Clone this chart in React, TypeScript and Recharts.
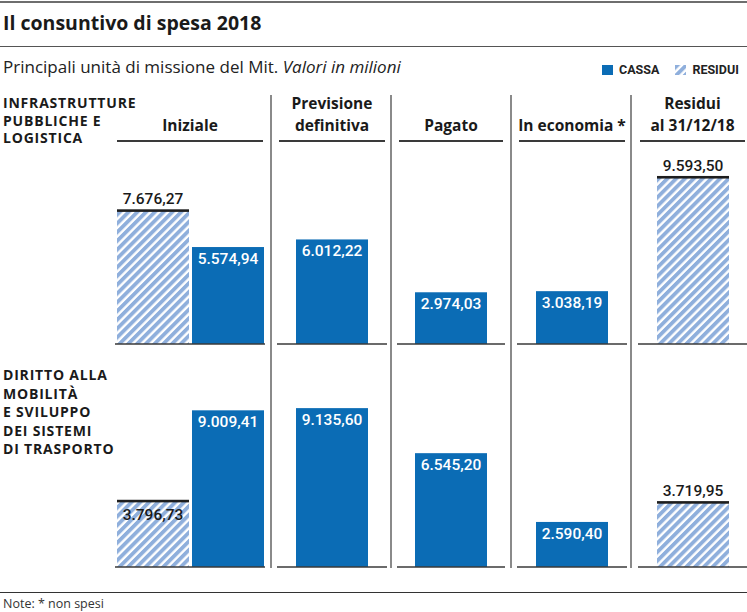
import React from 'react';
import { BarChart, Bar, XAxis, YAxis, LabelList } from 'recharts';

// ---- data ----
const rowLabels: string[][] = [
  ['INFRASTRUTTURE', 'PUBBLICHE E', 'LOGISTICA'],
  ['DIRITTO ALLA', 'MOBILITÀ', 'E SVILUPPO', 'DEI SISTEMI', 'DI TRASPORTO'],
];
const columnTitles: string[][] = [
  ['Iniziale'],
  ['Previsione', 'definitiva'],
  ['Pagato'],
  ['In economia *'],
  ['Residui', 'al 31/12/18'],
];
const inizialeResidui = [7676.27, 3796.73];
const inizialeCassa = [5574.94, 9009.41];
const previsioneDefinitiva = [6012.22, 9135.6];
const pagato = [2974.03, 6545.2];
const inEconomia = [3038.19, 2590.4];
const residuiFinali = [9593.5, 3719.95];
const seriesNames = { cassa: 'CASSA', residui: 'RESIDUI' };

type Kind = 'cassa' | 'residui';
type Item = { name: string; value: number; kind: Kind };

const columnData = (row: number): Item[][] => [
  [
    { name: 'Iniziale residui', value: inizialeResidui[row], kind: 'residui' },
    { name: 'Iniziale cassa', value: inizialeCassa[row], kind: 'cassa' },
  ],
  [{ name: 'Previsione definitiva', value: previsioneDefinitiva[row], kind: 'cassa' }],
  [{ name: 'Pagato', value: pagato[row], kind: 'cassa' }],
  [{ name: 'In economia', value: inEconomia[row], kind: 'cassa' }],
  [{ name: 'Residui al 31/12/18', value: residuiFinali[row], kind: 'residui' }],
];

// ---- styles / layout ----
const FONT = '"Open Sans", Roboto, "Liberation Sans", Arial, sans-serif';
const NUM_FONT = 'Roboto, "Liberation Sans", Arial, sans-serif';
const BLUE = '#0b6cb5';
const HATCH = '#8fafdc';
const W = 747;
const H = 612;
const colLayout = [
  { x: 115, w: 150 },
  { x: 277, w: 110 },
  { x: 397, w: 108 },
  { x: 517, w: 110 },
  { x: 638, w: 109 },
];
const separators = [271, 391, 511, 631];
const baselines = [344, 567];
const PLOT_H = 200;
const DOMAIN_MAX = 11500;

const fmt = (v: number) => {
  const [i, d] = v.toFixed(2).split('.');
  return i.replace(/\B(?=(\d{3})+(?!\d))/g, '.') + ',' + d;
};

function Pattern({ id }: { id: string }) {
  return (
    <defs>
      <pattern id={id} patternUnits="userSpaceOnUse" width="6.2" height="6.2" patternTransform="rotate(45)">
        <rect width="6.2" height="6.2" fill="#ffffff" />
        <rect width="3.8" height="6.2" fill={HATCH} />
      </pattern>
    </defs>
  );
}

function ColumnChart({ data, x, w, top, pid }: { data: Item[]; x: number; w: number; top: number; pid: string }) {
  const shape = (p: any) => {
    const item = data[p.index] ?? p.payload;
    if (item.kind === 'residui') {
      return (
        <g>
          <rect x={p.x} y={p.y} width={p.width} height={p.height} fill={`url(#${pid})`} />
          <rect x={p.x} y={p.y - 1.2} width={p.width} height={2.6} fill="#1e1e1e" />
        </g>
      );
    }
    return <rect x={p.x} y={p.y} width={p.width} height={p.height} fill={BLUE} />;
  };
  const label = (p: any) => {
    const item = data[p.index];
    if (!item) return null;
    const cx = p.x + p.width / 2;
    const taller = data.some((d, i) => i !== p.index && d.value > item.value);
    if (item.kind === 'cassa') {
      return (
        <text x={cx} y={p.y + 12} textAnchor="middle" dominantBaseline="central" fill="#ffffff"
          fontSize={15.5} fontWeight={500} fontFamily={NUM_FONT}>{fmt(item.value)}</text>
      );
    }
    const inside = taller;
    return (
      <text x={cx} y={inside ? p.y + 14 : p.y - 11} textAnchor="middle" dominantBaseline="central" fill="#1a1a1a"
        fontSize={15.5} fontWeight={500} fontFamily={NUM_FONT}>{fmt(item.value)}</text>
    );
  };
  return (
    <div style={{ position: 'absolute', left: x, top }}>
      <BarChart width={w} height={PLOT_H + 1} data={data} margin={{ top: 0, right: 0, bottom: 0, left: 0 }}
        barCategoryGap={0}>
        <Pattern id={pid} />
        <XAxis dataKey="name" tick={false} tickLine={false} height={1}
          axisLine={{ stroke: '#3a3a3a', strokeWidth: 1.5 }} />
        <YAxis hide domain={[0, DOMAIN_MAX]} />
        <Bar dataKey="value" barSize={72} isAnimationActive={false} shape={shape}>
          <LabelList dataKey="value" content={label} />
        </Bar>
      </BarChart>
    </div>
  );
}

function Line({ x1, x2, y, color, width }: { x1: number; x2: number; y: number; color: string; width: number }) {
  return <div style={{ position: 'absolute', left: x1, top: y - width / 2, width: x2 - x1, height: width, background: color }} />;
}

export default function App() {
  return (
    <div style={{ position: 'relative', width: W, height: H, background: '#fff', fontFamily: FONT, color: '#1a1a1a', overflow: 'hidden' }}>
      <style>{'body{margin:0;}'}</style>
      <Line x1={0} x2={W} y={2} color="#6e6e6e" width={2} />
      <div style={{ position: 'absolute', left: 3, top: 9, fontSize: 19.5, fontWeight: 700, lineHeight: '27px', whiteSpace: 'nowrap' }}>
        Il consuntivo di spesa 2018
      </div>
      <Line x1={0} x2={W} y={46} color="#555" width={1} />
      <div style={{ position: 'absolute', left: 3, top: 55, fontSize: 17, lineHeight: '24px', color: '#222', whiteSpace: 'nowrap' }}>
        Principali unità di missione del Mit. <i>Valori in milioni</i>
      </div>
      {/* legend */}
      <div style={{ position: 'absolute', left: 602, top: 62, display: 'flex', alignItems: 'center', fontSize: 12.5, fontWeight: 700, color: '#222', lineHeight: '16px', fontFamily: NUM_FONT }}>
        <svg width={11} height={10} style={{ marginRight: 6 }}>
          <rect width={11} height={10} fill={BLUE} />
        </svg>
        <span style={{ marginRight: 16 }}>{seriesNames.cassa}</span>
        <svg width={11} height={10} style={{ marginRight: 6 }}>
          <Pattern id="legendHatch" />
          <rect width={11} height={10} fill="url(#legendHatch)" />
        </svg>
        <span>{seriesNames.residui}</span>
      </div>
      {/* row labels */}
      {rowLabels.map((lines, r) => (
        <div key={r} style={{ position: 'absolute', left: 3, top: r === 0 ? 94 : 366, fontSize: 14, letterSpacing: 0.8, fontWeight: 700, lineHeight: r === 0 ? '17.5px' : '18.5px', color: '#1a1a1a', whiteSpace: 'nowrap' }}>
          {lines.map((l, i) => <div key={i}>{l}</div>)}
        </div>
      ))}
      {/* column headers */}
      {columnTitles.map((lines, c) => {
        const { x, w } = colLayout[c];
        return (
          <React.Fragment key={c}>
            <div style={{ position: 'absolute', left: x, width: w, top: 136 - lines.length * 21.5, textAlign: 'center', fontSize: 15.5, fontWeight: 700, lineHeight: '21.5px', color: '#1a1a1a', whiteSpace: 'nowrap' }}>
              {lines.map((l, i) => <div key={i}>{l}</div>)}
            </div>
            <Line x1={x + 2} x2={x + w - 2} y={141} color="#3a3a3a" width={1.5} />
          </React.Fragment>
        );
      })}
      {/* separators */}
      {separators.map((sx) => (
        <div key={sx} style={{ position: 'absolute', left: sx - 0.75, top: 95, width: 1.5, height: 473, background: '#8a8a8a' }} />
      ))}
      {/* charts */}
      {baselines.map((b, r) =>
        columnData(r).map((data, c) => (
          <ColumnChart key={`${r}-${c}`} data={data} x={colLayout[c].x} w={colLayout[c].w} top={b - PLOT_H} pid={`hatch-${r}-${c}`} />
        ))
      )}
      <Line x1={0} x2={W} y={592} color="#333" width={1} />
      <div style={{ position: 'absolute', left: 3, top: 595, fontSize: 12.5, lineHeight: '17px', color: '#333' }}>
        Note: * non spesi
      </div>
    </div>
  );
}
